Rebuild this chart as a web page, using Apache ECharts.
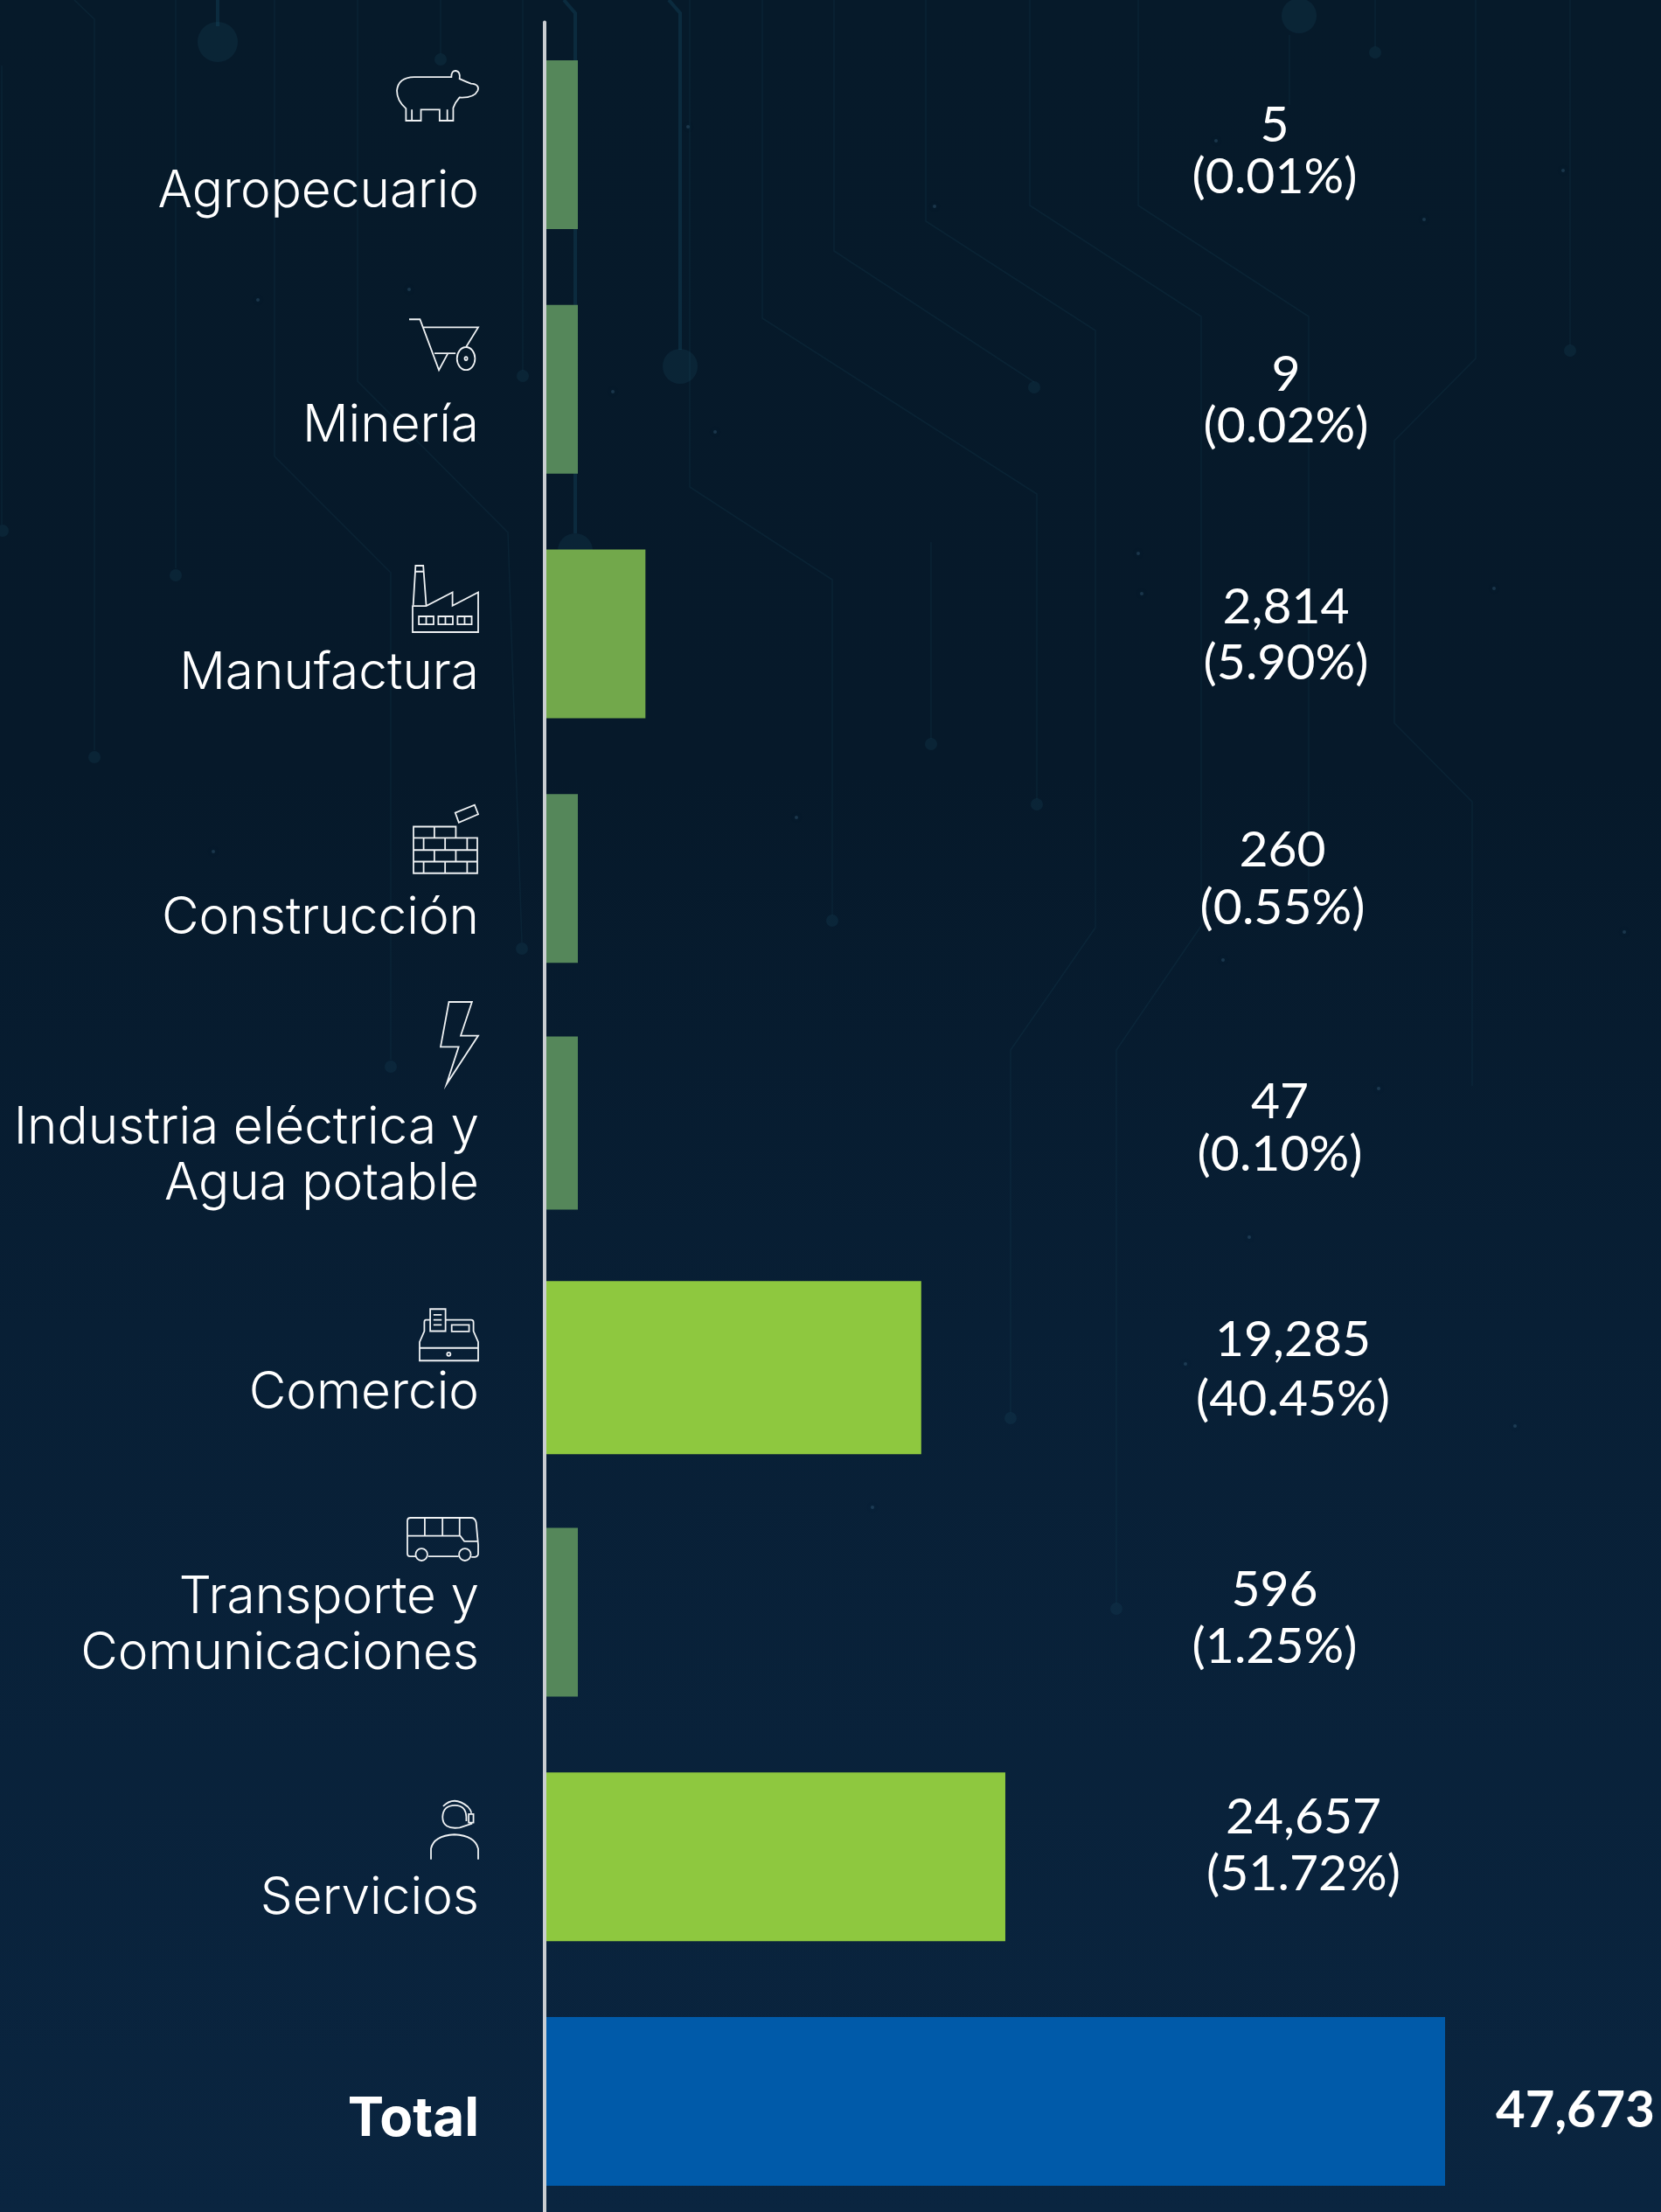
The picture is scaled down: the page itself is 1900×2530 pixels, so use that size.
<!DOCTYPE html>
<html>
<head>
<meta charset="utf-8">
<script src="https://cdn.jsdelivr.net/npm/echarts@6/dist/echarts.min.js"></script>
<style>
  html, body { margin: 0; padding: 0; background: #071a2c; }
  #chart { width: 1900px; height: 2530px; }
</style>
</head>
<body>
<div id="chart"></div>
<script>
const categories = ['Agropecuario', 'Minería', 'Manufactura', 'Construcción', 'Industria eléctrica y\nAgua potable', 'Comercio', 'Transporte y\nComunicaciones', 'Servicios', 'Total']
const valueLabels = ['5', '9', '2,814', '260', '47', '19,285', '596', '24,657', '47,673']
const shareLabels = ['(0.01%)', '(0.02%)', '(5.90%)', '(0.55%)', '(0.10%)', '(40.45%)', '(1.25%)', '(51.72%)', '']
// the bars in the original are not to scale with their labels (small ones share a minimum length),
// so these are the lengths as drawn in the same units as the total
const drawnValues = [1772, 1772, 5349, 1772, 1772, 19947, 1772, 24398, 47673]
const barColors = ['#55875a', '#55875a', '#72a84b', '#55875a', '#55875a', '#8ec83f', '#55875a', '#8ec83f', '#005aa9']
const tallBars = [4, 5] // these two are a bit thicker in the original

// layout, per row, measured from the middle of the row
const nameBaselines = [[74], [62], [66], [66], [26, 90], [49.5], [4, 68], [67.5], [42]]
const valueCenterX = [1458, 1471, 1471, 1467, 1464, 1479, 1458, 1491, 1802]
const valueBaselines = [-2, 3, -11, -12, -4.5, -12, -6, -25, 30.5]
const shareBaselines = [56.5, 62, 53, 53.5, 55.5, 56, 59, 40, 0]

const NAME_RIGHT = 548

// icons are outlines, fitted into [x, top offset from row middle, width, height]
const icons = [
  { box: [454, -84.5, 93, 57], path: 'M912 357V322Q892 300 892 270Q895 232 930 231H1012Q1012 212 1022 213Q1032 215 1030 236Q1045 245 1055 250Q1075 252 1070 270Q1062 292 1030 290Q1020 305 1016 320V357H986V325H945V357ZM925 325V357M1003 325V357' },
  { box: [468, -80, 79, 58], path: 'M919 957H943L985 1103L1005 1055M948 980H1072L1045 1037M975 1055H1022M1065 1070A20 33 0 1 1 1025 1070A20 33 0 1 1 1065 1070M1048 1070A3 5 0 1 1 1042 1070A3 5 0 1 1 1048 1070' },
  { box: [472, -78, 75, 76], path: 'M218 275L226 142H252L262 275M224 162H254M216 278H262L351 232V277L438 232V366H216ZM237 313H287V340H237ZM262 313V340M303 313H352V340H303ZM327 313V340M368 313H416V340H368ZM392 313V340' },
  { box: [473, -84, 74, 78], path: 'M222 1194V1037H364V1075H436V1194ZM222 1075H364M222 1116H436M222 1155H436M292 1037V1075M256 1075V1116M328 1075V1116M402 1075V1116M292 1116V1155M364 1116V1155M256 1155V1194M328 1155V1194M402 1155V1194M362 990L427 964L439 995L374 1023Z' },
  { box: [504, -138.5, 43, 94], path: 'M340 80H418L380 195H439L332 360L373 233H312Z' },
  { box: [480, -67, 67, 59], path: 'M277 1133H329V1208H277ZM288 1153H316M288 1170H316M288 1187H316M350 1187H409V1209H350ZM277 1170H262Q257 1170 257 1178V1208L241 1245V1308H440V1245L424 1208V1178Q424 1170 416 1170H329M241 1265H440M346 1286A6 6 0 1 1 334 1286A6 6 0 1 1 346 1286' },
  { box: [466, -108, 81, 49], path: 'M226 238H208Q199 238 199 228V120Q199 110 210 110H415Q428 110 432 125L439 200V228Q439 238 428 240H416M270 238H372M267 232A20 20 0 1 1 227 232A20 20 0 1 1 267 232M414 232A20 20 0 1 1 374 232A20 20 0 1 1 414 232M199 170H378L392 188H438M258 110V170M318 110V170M376 110V170' },
  { box: [493, -64, 54, 67], path: 'M378 1172Q320 1180 320 1135Q322 1095 362 1095Q398 1095 400 1135V1150M322 1098Q360 1060 405 1100Q418 1115 416 1122M408 1125H424V1155H408ZM378 1172L420 1158M281 1282V1245Q290 1200 360 1196Q430 1200 440 1245V1282' }
]

// faint circuit lines of the backdrop
const circuitLines = [
  [[85, 0], [108, 22], [108, 858]], [[201, 0], [201, 650]], [[314, 0], [314, 522], [447, 655], [447, 1212]],
  [[409, 0], [409, 436], [581, 609], [597, 1078]], [[504, 0], [504, 62]], [[598, 0], [598, 424]], [[2, 75], [2, 600]],
  [[789, 0], [789, 557], [952, 663], [952, 1047]], [[872, 0], [872, 364], [1186, 565], [1186, 914]],
  [[954, 0], [954, 287], [1183, 437]], [[1059, 0], [1059, 253], [1253, 378], [1253, 1061], [1156, 1201], [1156, 1616]],
  [[1178, 0], [1178, 235], [1374, 362], [1374, 1059], [1277, 1201], [1277, 1834]], [[1302, 0], [1302, 235], [1497, 362], [1497, 1055]],
  [[1475, 40], [1475, 120]], [[1573, 0], [1573, 54]], [[1688, 0], [1688, 410], [1595, 504], [1595, 827], [1684, 917], [1684, 1242]],
  [[1796, 0], [1796, 395]], [[1065, 620], [1065, 845]]
]
const thickLines = [[[645, 0], [658, 15], [658, 610]], [[765, 0], [778, 15], [778, 400]], [[249, 0], [249, 30]]]
const circuitNodes = [
  [108, 866, 7], [201, 658, 7], [447, 1220, 7], [597, 1085, 7], [504, 68, 7], [598, 430, 7], [3, 607, 7], [952, 1053, 7], [1186, 920, 7],
  [1156, 1622, 7], [1183, 443, 7], [1277, 1840, 7], [1573, 60, 7], [1796, 401, 7], [1065, 851, 7], [658, 630, 20], [778, 419, 20], [249, 48, 23], [1486, 18, 20]
]
const stars = [
  [1391, 161], [1629, 251], [1069, 236], [787, 145], [1788, 195], [701, 448], [818, 494], [1302, 633], [1306, 679], [1709, 673], [911, 935],
  [1399, 1098], [1858, 1066], [1577, 1245], [1429, 1415], [1356, 1560], [1733, 1631], [998, 1724], [244, 974], [295, 343], [468, 331]
]

const NAME_FONT = 'Inter'
const VALUE_FONT = 'Lato'
const NAME_SIZE = 58.5
const TOTAL_NAME_SIZE = 62
const VALUE_SIZE = 57
const TOTAL_VALUE_SIZE = 58
const MID = 0.345 // baseline to the middle the canvas aligns on, in em

const backdrop = []
circuitLines.forEach(points => {
  backdrop.push({ type: 'polyline', silent: true, shape: { points }, style: { fill: null, stroke: 'rgba(28,84,104,0.16)', lineWidth: 1.5 } })
})
thickLines.forEach(points => {
  backdrop.push({ type: 'polyline', silent: true, shape: { points }, style: { fill: null, stroke: 'rgba(24,84,108,0.3)', lineWidth: 4 } })
})
circuitNodes.forEach(n => {
  backdrop.push({ type: 'circle', silent: true, shape: { cx: n[0], cy: n[1], r: n[2] }, style: { fill: 'rgba(28,78,98,0.22)' } })
})
stars.forEach(s => {
  backdrop.push({ type: 'circle', silent: true, shape: { cx: s[0], cy: s[1], r: 2 }, style: { fill: 'rgba(90,140,170,0.25)', shadowBlur: 8, shadowColor: 'rgba(90,140,170,0.4)' } })
})

const barData = (wantTall) => drawnValues.map((v, i) => {
  if (tallBars.includes(i) !== wantTall) return null
  return { value: v, itemStyle: { color: barColors[i] } }
})

const rowText = (text, x, y, size, align, weight, family) => ({
  type: 'text',
  silent: true,
  style: {
    text, x, y: y - size * MID, align, verticalAlign: 'middle',
    fill: '#ffffff', fontFamily: family, fontSize: size, fontWeight: weight
  }
})

const myChart = echarts.init(document.getElementById('chart'))
myChart.setOption({
  animation: false,
  backgroundColor: {
    type: 'linear', x: 0, y: 0, x2: 0, y2: 1,
    colorStops: [{ offset: 0, color: '#061a2a' }, { offset: 0.35, color: '#06192a' }, { offset: 0.6, color: '#081f35' }, { offset: 1, color: '#0a2540' }]
  },
  graphic: { elements: backdrop },
  grid: { left: 622.7, top: 25.6, width: 1030.3, height: 2517.75, outerBoundsMode: 'none' },
  xAxis: { type: 'value', min: 0, max: 47673, show: false },
  yAxis: [
    {
      type: 'category',
      inverse: true,
      data: categories,
      z: 5,
      axisLine: { show: true, lineStyle: { color: '#c9cdd1', width: 4 } },
      axisTick: { show: false },
      axisLabel: { show: false }
    },
    // second axis only so the thicker bars are laid out on their own and stay centred on their row
    { type: 'category', inverse: true, data: categories, show: false }
  ],
  series: [
    { name: 'bars', type: 'bar', barWidth: 193, data: barData(false) },
    { name: 'barsTall', type: 'bar', yAxisIndex: 1, barWidth: 198, data: barData(true) },
    {
      name: 'text',
      type: 'custom',
      clip: false,
      z: 4,
      data: categories.map((c, i) => i),
      encode: { y: 0 },
      coordinateSystem: 'cartesian2d',
      renderItem: (params, api) => {
        const i = params.dataIndex
        const isTotal = i === categories.length - 1
        const mid = api.coord([0, i])[1]
        const children = []
        categories[i].split('\n').forEach((line, k) => {
          children.push(rowText(line, NAME_RIGHT, mid + nameBaselines[i][k], isTotal ? TOTAL_NAME_SIZE : NAME_SIZE, 'right', isTotal ? 700 : 300, NAME_FONT))
        })
        children.push(rowText(valueLabels[i], valueCenterX[i], mid + valueBaselines[i], isTotal ? TOTAL_VALUE_SIZE : VALUE_SIZE, 'center', isTotal ? 700 : 400, VALUE_FONT))
        if (shareLabels[i]) {
          children.push(rowText(shareLabels[i], valueCenterX[i], mid + shareBaselines[i], VALUE_SIZE, 'center', 400, VALUE_FONT))
        }
        if (icons[i]) {
          const b = icons[i].box
          children.push({
            type: 'path',
            silent: true,
            shape: { pathData: icons[i].path, layout: 'cover', x: b[0], y: mid + b[1], width: b[2], height: b[3] },
            style: { fill: null, stroke: '#eef1f3', lineWidth: 1.8 }
          })
        }
        return { type: 'group', children }
      }
    }
  ]
})
</script>
</body>
</html>
